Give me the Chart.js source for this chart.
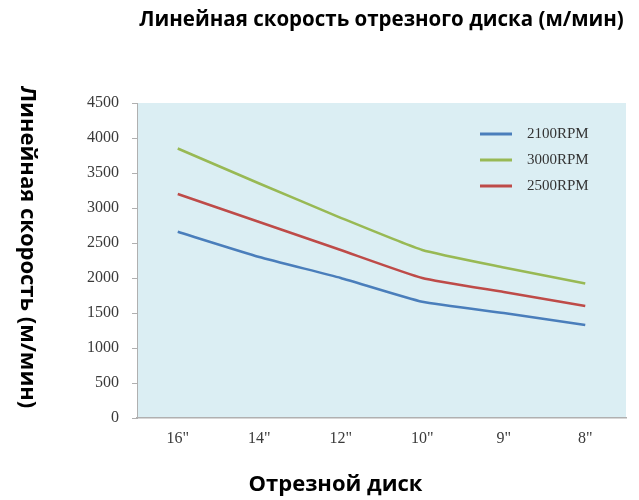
<!DOCTYPE html>
<html>
<head>
<meta charset="utf-8">
<script src="https://cdn.jsdelivr.net/npm/chart.js@4/dist/chart.umd.min.js"></script>
<style>
  html, body { margin: 0; padding: 0; background: #fff; }
  #wrap { width: 639px; height: 500px; }
</style>
</head>
<body>
<div id="wrap"><canvas id="graphCanvas"></canvas></div>
<script>
var discs = ['16"', '14"', '12"', '10"', '9"', '8"'];
var rpm2100 = [2660, 2300, 2000, 1660, 1500, 1330];
var rpm3000 = [3850, 3350, 2860, 2400, 2150, 1920];
var rpm2500 = [3200, 2800, 2400, 2000, 1800, 1600];
var seriesNames = ["2100RPM", "3000RPM", "2500RPM"];
var yTicks = [0, 500, 1000, 1500, 2000, 2500, 3000, 3500, 4000, 4500];

var tickFont = { family: "'Liberation Serif', serif", size: 16 };
var tickColor = "#3a3a3a";

// light blue plot background, like the old excel charts
var plotBg = {
  id: "plotBg",
  beforeDraw: function (chart) {
    var a = chart.chartArea;
    var ctx = chart.ctx;
    ctx.save();
    ctx.fillStyle = "#dbeef3";
    ctx.fillRect(a.left, a.top, a.right - a.left, a.bottom - a.top);
    ctx.restore();
  }
};

// y title reads top to bottom, and the legend sits inside the plot
var extras = {
  id: "extras",
  afterDraw: function (chart) {
    var ctx = chart.ctx;
    var a = chart.chartArea;
    ctx.save();
    ctx.translate(27, 247);
    ctx.rotate(Math.PI / 2);
    ctx.font = "bold 22px 'Open Sans'";
    ctx.fillStyle = "#000";
    ctx.textAlign = "center";
    ctx.textBaseline = "middle";
    ctx.fillText("Линейная скорость (м/мин)", 0, 0);
    ctx.restore();

    ctx.save();
    ctx.font = "15px 'Liberation Serif'";
    ctx.textBaseline = "middle";
    chart.data.datasets.forEach(function (ds, i) {
      var y = a.top + 31 + i * 26;
      ctx.strokeStyle = ds.borderColor;
      ctx.lineWidth = 3;
      ctx.beginPath();
      ctx.moveTo(a.right - 146, y);
      ctx.lineTo(a.right - 114, y);
      ctx.stroke();
      ctx.fillStyle = "#333";
      ctx.fillText(ds.label, a.right - 99, y);
    });
    ctx.restore();
  }
};

new Chart(document.getElementById("graphCanvas"), {
  type: "line",
  data: {
    labels: discs,
    datasets: [
      { label: seriesNames[0], data: rpm2100, borderColor: "#4a7ebb", backgroundColor: "#4a7ebb" },
      { label: seriesNames[1], data: rpm3000, borderColor: "#98b954", backgroundColor: "#98b954" },
      { label: seriesNames[2], data: rpm2500, borderColor: "#be4b48", backgroundColor: "#be4b48" }
    ]
  },
  options: {
    responsive: true,
    maintainAspectRatio: false,
    animation: false,
    elements: {
      line: { borderWidth: 2.5, tension: 0.15 },
      point: { radius: 0 }
    },
    layout: { padding: { left: 45, right: 13, top: 0, bottom: 0 } },
    plugins: {
      legend: { display: false },
      tooltip: { enabled: false },
      title: {
        display: true,
        text: "Линейная скорость отрезного диска (м/мин)",
        fullSize: false,
        color: "#000",
        font: { family: "'Open Sans'", size: 20.5, weight: "bold" },
        padding: { top: 8, bottom: 70.4 }
      },
      subtitle: {
        display: true,
        position: "bottom",
        text: "Отрезной диск",
        color: "#000",
        font: { family: "'Open Sans'", size: 22, weight: "bold" },
        padding: { top: 23.6, bottom: 2 }
      }
    },
    scales: {
      x: {
        offset: true,
        grid: { display: false, drawTicks: false },
        border: { display: true, color: "#b0b0b0", width: 1.5 },
        ticks: { font: tickFont, color: tickColor, padding: 11 },
        afterFit: function (scale) { scale.height = 30; }
      },
      y: {
        min: 0,
        max: 4500,
        afterBuildTicks: function (scale) {
          scale.ticks = yTicks.map(function (v) { return { value: v }; });
        },
        grid: { drawOnChartArea: false, tickLength: 5, color: "#b0b0b0" },
        border: { display: true, color: "#b0b0b0", width: 1 },
        ticks: {
          font: tickFont,
          color: tickColor,
          padding: 13,
          callback: function (v) { return String(v); }
        },
        afterFit: function (scale) { scale.width = 92; }
      }
    }
  },
  plugins: [plotBg, extras]
});
</script>
</body>
</html>
